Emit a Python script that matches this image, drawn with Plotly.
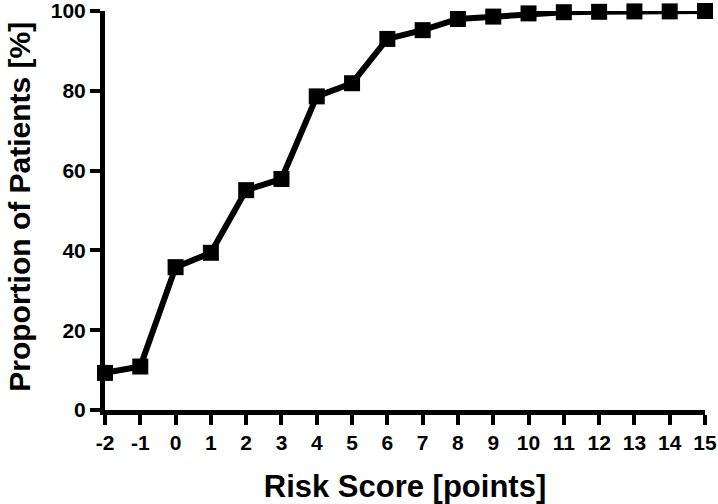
import plotly.graph_objects as go

# Risk score categories and cumulative proportion of patients (%)
risk_score = [-2, -1, 0, 1, 2, 3, 4, 5, 6, 7, 8, 9, 10, 11, 12, 13, 14, 15]
proportion = [9.3, 10.9, 35.8, 39.4, 55.1, 57.9, 78.6, 81.9, 93.0, 95.2, 98.0, 98.6,
              99.4, 99.7, 99.8, 99.9, 99.9, 100.0]

x_ticks = list(range(-2, 16))
x_labels = [str(v) for v in x_ticks]  # plain hyphen for negatives
y_ticks = [0, 20, 40, 60, 80, 100]

font_family = "Liberation Sans, Arial, sans-serif"

fig = go.Figure()

fig.add_trace(go.Scatter(
    x=risk_score,
    y=proportion,
    mode='lines+markers',
    line=dict(color='black', width=6),
    marker=dict(symbol='square', size=16, color='black'),
    cliponaxis=False,
    showlegend=False
))

axis_common = dict(
    showline=True,
    linecolor='black',
    linewidth=5,
    ticks='outside',
    ticklen=10,
    tickwidth=4,
    tickcolor='black',
    showgrid=False,
    zeroline=False,
    automargin=False,
    ticklabeloverflow='allow',
    tickfont=dict(family=font_family, size=21, color='black', weight='bold'),
)

fig.update_layout(
    width=718,
    height=504,
    margin=dict(l=105, r=13, t=11, b=94),
    plot_bgcolor='white',
    paper_bgcolor='white',
    xaxis=dict(
        range=[-2, 15],
        tickvals=x_ticks,
        ticktext=x_labels,
        title=dict(text='Risk Score [points]', standoff=29,
                   font=dict(family=font_family, size=31, color='black', weight='bold')),
        **axis_common
    ),
    yaxis=dict(
        range=[0, 100],
        tickvals=y_ticks,
        **axis_common
    ),
)

# y title as an annotation so it can sit close to the left edge
fig.add_annotation(
    text='Proportion of Patients [%]',
    xref='paper', yref='paper',
    x=-0.143, y=0.51,
    xanchor='center', yanchor='middle',
    textangle=-90,
    showarrow=False,
    font=dict(family=font_family, size=30, color='black', weight='bold'),
)

# drop the default page margin so the figure sits at the window corner
fig.write_html("out.html", config={'displayModeBar': False},
               post_script="document.body.style.margin='0';")
